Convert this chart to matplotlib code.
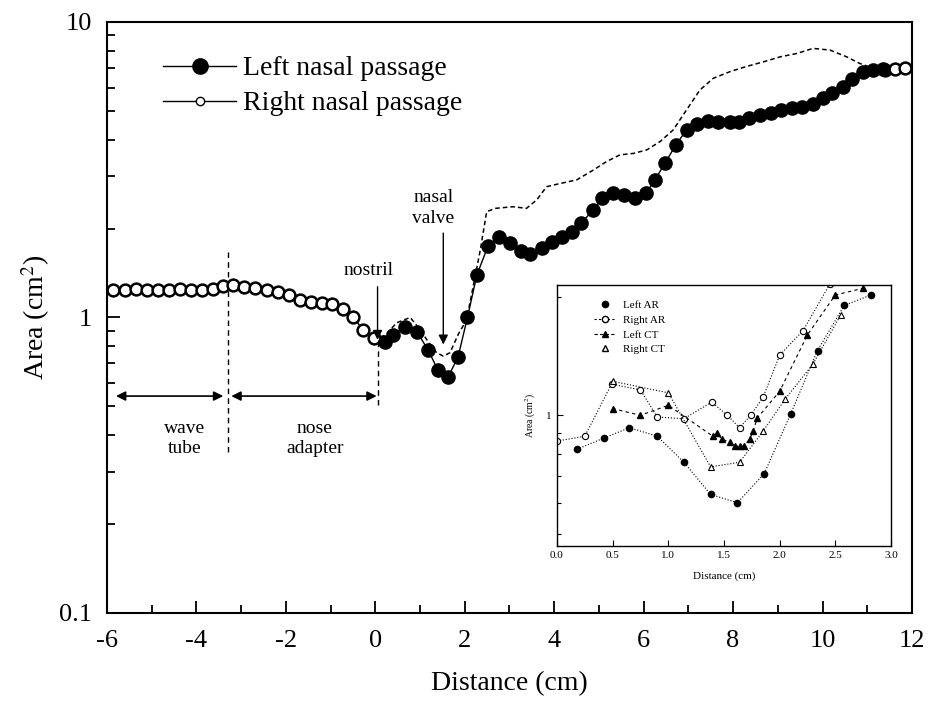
import numpy as np
import matplotlib
matplotlib.use("Agg")
import matplotlib.pyplot as plt
from matplotlib.lines import Line2D
from matplotlib.ticker import FixedLocator, NullFormatter, LogLocator, FuncFormatter, MultipleLocator

plt.rcParams['font.family'] = ['Liberation Serif', 'DejaVu Serif']
plt.rcParams['mathtext.fontset'] = 'stix'
plt.rcParams['axes.unicode_minus'] = False

# main plot data
x_left = [0.22, 0.40, 0.66, 0.93, 1.18, 1.40, 1.63, 1.85, 2.06, 2.27, 2.52, 2.77, 3.01, 3.25,
          3.46, 3.72, 3.94, 4.17, 4.39, 4.61, 4.86, 5.08, 5.32, 5.57, 5.81, 6.05, 6.25, 6.48,
          6.72, 6.96, 7.20, 7.45, 7.67, 7.92, 8.13, 8.36, 8.60, 8.84, 9.08, 9.31, 9.55, 9.79,
          10.01, 10.22, 10.45, 10.66, 10.90, 11.12, 11.35]
a_left = [0.828, 0.873, 0.931, 0.895, 0.776, 0.664, 0.63, 0.735, 1.0, 1.39, 1.745, 1.87, 1.79,
          1.68, 1.64, 1.72, 1.806, 1.877, 1.95, 2.083, 2.31, 2.53, 2.63, 2.60, 2.53, 2.63, 2.92,
          3.33, 3.84, 4.31, 4.52, 4.63, 4.60, 4.59, 4.60, 4.72, 4.84, 4.93, 5.04, 5.10, 5.17,
          5.28, 5.52, 5.74, 6.03, 6.43, 6.79, 6.88, 6.95]

x_right = [-5.86, -5.60, -5.36, -5.11, -4.85, -4.61, -4.37, -4.13, -3.88, -3.64, -3.40, -3.18,
           -2.93, -2.68, -2.43, -2.18, -1.94, -1.68, -1.44, -1.20, -0.96, -0.72, -0.49, -0.27,
           -0.02,
           0.22, 0.48, 0.78, 1.0, 1.2, 1.37, 1.52, 1.67, 1.86, 2.04, 2.2, 2.35, 2.49, 2.68, 3.08,
           3.38, 3.61, 3.83, 4.13, 4.50, 4.87, 5.17, 5.47, 5.77, 6.07, 6.37, 6.66, 6.96, 7.26,
           7.56, 7.93, 8.30, 8.68, 9.05, 9.42, 9.79, 10.17, 10.54, 10.83, 11.14, 11.40, 11.62,
           11.85, 12.0]
a_right = [1.24, 1.24, 1.245, 1.24, 1.24, 1.24, 1.245, 1.24, 1.24, 1.25, 1.28, 1.29, 1.27,
           1.255, 1.24, 1.22, 1.19, 1.15, 1.13, 1.117, 1.108, 1.07, 1.0, 0.907, 0.85,
           0.87, 0.96, 1.0, 0.91, 0.82, 0.76, 0.74, 0.76, 0.88, 0.98, 1.3, 1.7, 2.28, 2.34, 2.37,
           2.34, 2.50, 2.77, 2.84, 2.92, 3.15, 3.37, 3.55, 3.59, 3.69, 3.94, 4.31, 5.04, 5.89,
           6.45, 6.79, 7.07, 7.33, 7.62, 7.82, 8.14, 8.03, 7.62, 7.24, 6.97, 6.88, 6.95,
           7.0, 6.8]

# inset data
x_lar = [0.18, 0.42, 0.65, 0.90, 1.14, 1.38, 1.62, 1.86, 2.10, 2.34, 2.58, 2.82]
a_lar = [0.82, 0.875, 0.93, 0.885, 0.76, 0.63, 0.60, 0.71, 1.01, 1.46, 1.90, 2.02]
x_rar = [0.0, 0.25, 0.49, 0.75, 0.90, 1.14, 1.39, 1.53, 1.64, 1.74, 1.85, 2.0, 2.21, 2.45]
a_rar = [0.86, 0.885, 1.2, 1.16, 0.99, 0.98, 1.08, 1.0, 0.93, 1.0, 1.11, 1.42, 1.64, 2.15]
x_lct = [0.5, 0.75, 1.0, 1.40, 1.44, 1.48, 1.55, 1.60, 1.64, 1.68, 1.73, 1.76, 1.80, 2.0, 2.25,
         2.5, 2.75]
a_lct = [1.04, 1.0, 1.06, 0.885, 0.90, 0.87, 0.855, 0.835, 0.835, 0.835, 0.87, 0.91, 0.985,
         1.15, 1.6, 2.02, 2.1]
x_rct = [0.5, 1.0, 1.38, 1.64, 1.85, 2.05, 2.30, 2.55]
a_rct = [1.22, 1.14, 0.74, 0.76, 0.91, 1.10, 1.35, 1.80]

fig = plt.figure(figsize=(9.32, 7.04), dpi=100)
ax = fig.add_axes([0.1148, 0.1293, 0.8637, 0.8395])

n_neg = 25
mk_idx = list(range(n_neg)) + [len(x_right) - 4, len(x_right) - 3, len(x_right) - 2]
ax.plot(x_right, a_right, color='black', lw=1.1, ls=(0, (3, 2)), marker='o', ms=8.5,
        mfc='white', mec='black', mew=1.8, markevery=mk_idx, zorder=3)
ax.plot(x_left, a_left, color='black', lw=1.0, marker='o', ms=9.5, mfc='black', mec='black',
        zorder=4)

ax.set_yscale('log')
ax.set_xlim(-6, 12)
ax.set_ylim(0.1, 10)
ax.xaxis.set_major_locator(MultipleLocator(2))
ax.xaxis.set_minor_locator(MultipleLocator(1))
ax.yaxis.set_major_locator(FixedLocator([0.1, 1, 10]))
ax.yaxis.set_minor_locator(LogLocator(base=10, subs=np.arange(2, 10)))
ax.yaxis.set_minor_formatter(NullFormatter())
ax.yaxis.set_major_formatter(FuncFormatter(lambda v, p: {0.1: '0.1', 1: '1', 10: '10'}.get(round(v, 1), '')))
ax.tick_params(which='both', direction='in', top=False, right=False, labelsize=19, width=1.3)
ax.tick_params(which='major', length=9)
ax.tick_params(which='minor', length=6)
ax.tick_params(axis='x', which='major', pad=12)
ax.tick_params(axis='y', which='major', pad=11)
for s in ax.spines.values():
    s.set_linewidth(1.5)
ax.set_xlabel('Distance (cm)', fontsize=20, labelpad=14)
ax.set_ylabel('Area (cm$^2$)', fontsize=20, labelpad=5)

# annotations
ax.plot([-3.3, -3.3], [0.35, 1.72], color='black', lw=1.0, ls=(0, (4, 3)))
ax.plot([0.05, 0.05], [0.506, 0.84], color='black', lw=1.0, ls=(0, (4, 3)))
arr2 = dict(arrowstyle='<|-|>', color='black', lw=1.2, mutation_scale=14, shrinkA=0, shrinkB=0)
ax.annotate('', xy=(-5.8, 0.542), xytext=(-3.4, 0.542), arrowprops=arr2)
ax.annotate('', xy=(-3.22, 0.542), xytext=(0.03, 0.542), arrowprops=arr2)
ax.text(-4.26, 0.39, 'wave\ntube', ha='center', va='center', fontsize=14, linespacing=1.25)
ax.text(-1.35, 0.39, 'nose\nadapter', ha='center', va='center', fontsize=14, linespacing=1.25)
arr1 = dict(arrowstyle='-|>', color='black', lw=1.0, mutation_scale=14, shrinkA=0, shrinkB=0)
ax.annotate('', xy=(0.05, 0.84), xytext=(0.05, 1.27), arrowprops=arr1)
ax.text(-0.15, 1.44, 'nostril', ha='center', va='center', fontsize=14)
ax.annotate('', xy=(1.52, 0.81), xytext=(1.52, 1.93), arrowprops=arr1)
ax.text(1.3, 2.35, 'nasal\nvalve', ha='center', va='center', fontsize=14, linespacing=1.3)

h1 = Line2D([], [], color='black', lw=1.0, marker='o', ms=11, mfc='black', mec='black')
h2 = Line2D([], [], color='black', lw=1.0, marker='o', ms=6, mfc='white', mec='black', mew=1.0)
ax.legend([h1, h2], ['Left nasal passage', 'Right nasal passage'], loc='upper left',
          bbox_to_anchor=(0.038, 0.985), frameon=False, fontsize=20, handlelength=2.66,
          handletextpad=0.25, labelspacing=0.35)

# inset
ins = fig.add_axes([0.5976, 0.2244, 0.3584, 0.3707])
ins.plot(x_lar, a_lar, color='black', lw=0.8, ls=':', marker='o', ms=4.5, mfc='black')
ins.plot(x_rar, a_rar, color='black', lw=0.8, ls=':', marker='o', ms=4.5, mfc='white', mew=0.8)
ins.plot(x_lct, a_lct, color='black', lw=0.8, ls=(0, (3, 3)), marker='^', ms=5, mfc='black')
ins.plot(x_rct, a_rct, color='black', lw=0.8, ls=':', marker='^', ms=5, mfc='white', mew=0.8)
ins.set_yscale('log')
ins.set_xlim(0, 3.0)
ins.set_ylim(0.466, 2.14)
ins.xaxis.set_major_locator(MultipleLocator(0.5))
ins.yaxis.set_major_locator(FixedLocator([1]))
ins.yaxis.set_major_formatter(FuncFormatter(lambda v, p: '1'))
ins.yaxis.set_minor_locator(LogLocator(base=10, subs=np.arange(2, 10)))
ins.yaxis.set_minor_formatter(NullFormatter())
ins.xaxis.set_major_formatter(FuncFormatter(lambda v, p: f'{v:.1f}'))
ins.tick_params(which='both', direction='in', top=False, right=False, labelsize=8, width=0.8)
ins.tick_params(which='major', length=4)
ins.tick_params(which='minor', length=3)
for s in ins.spines.values():
    s.set_linewidth(1.0)
ins.set_xlabel('Distance (cm)', fontsize=8, labelpad=8)
ins.set_ylabel('Area (cm$^2$)', fontsize=7, labelpad=6)
ih = [Line2D([], [], color='black', ls='none', marker='o', ms=4.5, mfc='black'),
      Line2D([], [], color='black', lw=0.8, ls=(0, (2, 2)), marker='o', ms=4.5, mfc='white'),
      Line2D([], [], color='black', lw=0.8, ls=(0, (3, 2)), marker='^', ms=5, mfc='black'),
      Line2D([], [], color='black', ls='none', marker='^', ms=5, mfc='white')]
ins.legend(ih, ['Left AR', 'Right AR', 'Left CT', 'Right CT'], loc='upper left',
           bbox_to_anchor=(0.08, 0.98), frameon=False, fontsize=8, handlelength=2.0,
           handletextpad=0.6, labelspacing=0.45)

fig.savefig('out.png', dpi=100)
